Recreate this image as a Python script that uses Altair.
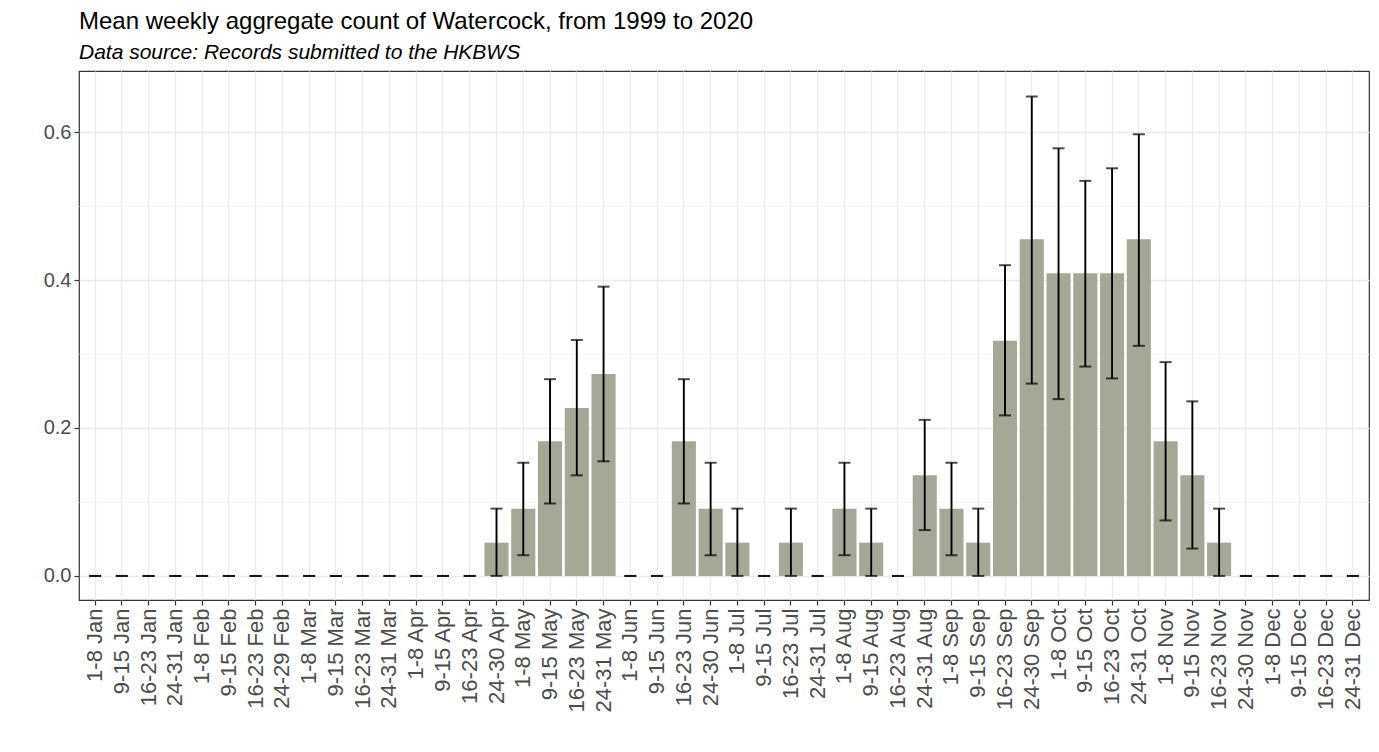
import altair as alt
import pandas as pd

weeks = [
    "1-8 Jan", "9-15 Jan", "16-23 Jan", "24-31 Jan",
    "1-8 Feb", "9-15 Feb", "16-23 Feb", "24-29 Feb",
    "1-8 Mar", "9-15 Mar", "16-23 Mar", "24-31 Mar",
    "1-8 Apr", "9-15 Apr", "16-23 Apr", "24-30 Apr",
    "1-8 May", "9-15 May", "16-23 May", "24-31 May",
    "1-8 Jun", "9-15 Jun", "16-23 Jun", "24-30 Jun",
    "1-8 Jul", "9-15 Jul", "16-23 Jul", "24-31 Jul",
    "1-8 Aug", "9-15 Aug", "16-23 Aug", "24-31 Aug",
    "1-8 Sep", "9-15 Sep", "16-23 Sep", "24-30 Sep",
    "1-8 Oct", "9-15 Oct", "16-23 Oct", "24-31 Oct",
    "1-8 Nov", "9-15 Nov", "16-23 Nov", "24-30 Nov",
    "1-8 Dec", "9-15 Dec", "16-23 Dec", "24-31 Dec",
]

mean_count = [
    0, 0, 0, 0,
    0, 0, 0, 0,
    0, 0, 0, 0,
    0, 0, 0, 0.045,
    0.091, 0.182, 0.227, 0.273,
    0, 0, 0.182, 0.091,
    0.045, 0, 0.045, 0,
    0.091, 0.045, 0, 0.136,
    0.091, 0.045, 0.318, 0.455,
    0.409, 0.409, 0.409, 0.455,
    0.182, 0.136, 0.045, 0,
    0, 0, 0, 0,
]

err_low = [
    0, 0, 0, 0,
    0, 0, 0, 0,
    0, 0, 0, 0,
    0, 0, 0, 0,
    0.028, 0.098, 0.136, 0.155,
    0, 0, 0.098, 0.028,
    0, 0, 0, 0,
    0.028, 0, 0, 0.062,
    0.028, 0, 0.217, 0.260,
    0.239, 0.283, 0.267, 0.311,
    0.075, 0.037, 0, 0,
    0, 0, 0, 0,
]

err_high = [
    0, 0, 0, 0,
    0, 0, 0, 0,
    0, 0, 0, 0,
    0, 0, 0, 0.091,
    0.153, 0.266, 0.319, 0.391,
    0, 0, 0.266, 0.153,
    0.091, 0, 0.091, 0,
    0.153, 0.091, 0, 0.211,
    0.153, 0.091, 0.420, 0.648,
    0.578, 0.534, 0.551, 0.597,
    0.289, 0.236, 0.091, 0,
    0, 0, 0, 0,
]

y_ticks = [0, 0.1, 0.2, 0.3, 0.4, 0.5, 0.6]

df = pd.DataFrame({"week": weeks, "mean": mean_count, "lo": err_low, "hi": err_high})

FONT = "Liberation Sans"
minor_test = "round(datum.value * 10) % 2 == 1"

x_enc = alt.X(
    "week:N",
    sort=weeks,
    title=None,
    scale=alt.Scale(paddingInner=0.1, paddingOuter=0.15),
    axis=alt.Axis(
        labelAngle=-90,
        labelFontSize=22,
        labelColor="#4d4d4d",
        labelFont=FONT,
        labelPadding=3,
        tickSize=5,
        tickColor="#333333",
        tickWidth=1.2,
        grid=True,
        gridColor="#ebebeb",
        gridWidth=1.3,
        bandPosition=0.5,
        domain=False,
    ),
)

y_scale = alt.Scale(domain=[-0.0325, 0.6825], nice=False, zero=False)

bars = alt.Chart(df).mark_bar(color="#a5a797").encode(
    x=x_enc,
    y=alt.Y(
        "mean:Q",
        scale=y_scale,
        title=None,
        axis=alt.Axis(
            values=y_ticks,
            labelExpr=f"{minor_test} ? '' : format(datum.value, '.1f')",
            labelFontSize=20,
            labelColor="#4d4d4d",
            labelFont=FONT,
            labelPadding=3,
            tickSize=5,
            tickWidth=1.2,
            tickColor="#333333",
            tickOpacity={"condition": {"test": minor_test, "value": 0}, "value": 1},
            grid=True,
            gridColor={"condition": {"test": minor_test, "value": "#f3f3f3"}, "value": "#ebebeb"},
            gridWidth={"condition": {"test": minor_test, "value": 0.8}, "value": 1.3},
            domain=False,
        ),
    ),
    y2=alt.datum(0),
)

rules = alt.Chart(df).mark_rule(color="black", strokeWidth=1.9).encode(
    x=alt.X("week:N", sort=weeks),
    y=alt.Y("lo:Q", scale=y_scale),
    y2="hi:Q",
)

cap_lo = alt.Chart(df).mark_tick(color="black", size=12, thickness=2).encode(
    x=alt.X("week:N", sort=weeks),
    y=alt.Y("lo:Q", scale=y_scale),
)

cap_hi = alt.Chart(df).mark_tick(color="black", size=12, thickness=2).encode(
    x=alt.X("week:N", sort=weeks),
    y=alt.Y("hi:Q", scale=y_scale),
)

chart = (
    alt.layer(bars, rules, cap_lo, cap_hi)
    .properties(
        width=1290,
        height=529,
        title=alt.TitleParams(
            text="Mean weekly aggregate count of Watercock, from 1999 to 2020",
            subtitle="Data source: Records submitted to the HKBWS",
            anchor="start",
            frame="group",
            font=FONT,
            fontSize=24,
            fontWeight="normal",
            color="black",
            subtitleFont=FONT,
            subtitleFontSize=21,
            subtitleFontStyle="italic",
            subtitleColor="black",
            subtitlePadding=8,
            offset=8,
        ),
        autosize=alt.AutoSizeParams(type="none"),
        padding={"left": 71, "top": 63, "right": 2, "bottom": 140},
    )
    .configure(background="white")
    .configure_view(stroke="#333333", strokeWidth=1.2)
)

chart.save("out.html", embed_options={"renderer": "svg", "actions": False})
